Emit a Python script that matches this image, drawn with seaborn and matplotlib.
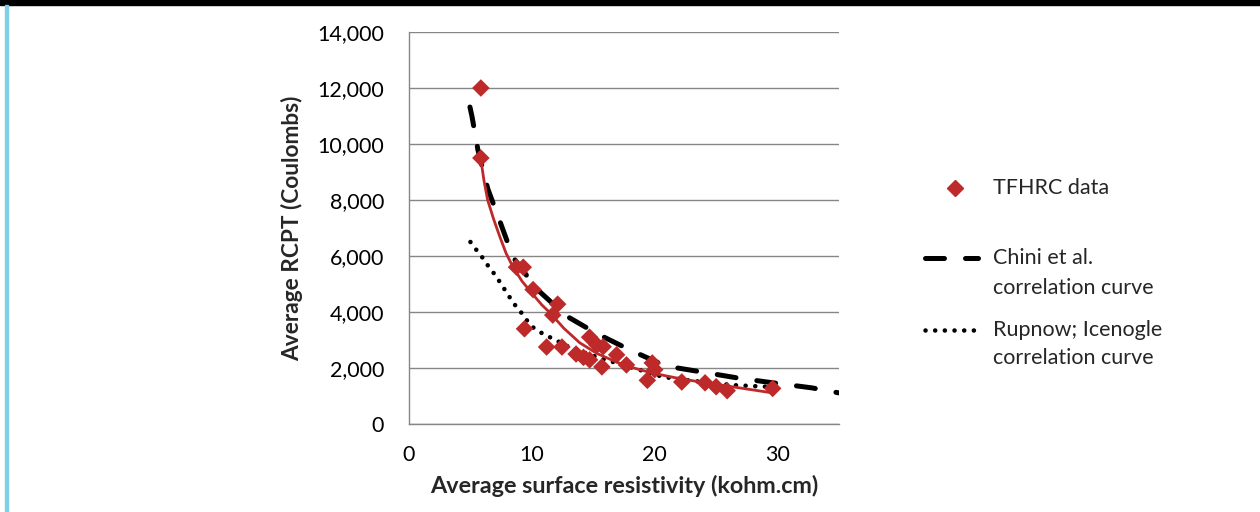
import matplotlib
matplotlib.use("Agg")
import matplotlib.pyplot as plt
import seaborn as sns
from matplotlib.lines import Line2D
from matplotlib.patches import Rectangle
from matplotlib.ticker import FuncFormatter, MultipleLocator

# TFHRC measured points
tfhrc_x = [5.85, 5.85, 8.75, 9.3, 10.1, 12.1, 11.7, 9.4, 11.2, 12.45, 13.6, 14.2, 14.7,
           14.7, 15.3, 15.8, 15.7, 16.9, 17.7, 19.8, 19.4, 20.0, 22.2, 24.1, 25.0, 25.9, 29.6]
tfhrc_y = [12000, 9500, 5600, 5600, 4800, 4280, 3890, 3400, 2750, 2750, 2500, 2380, 3100,
           2290, 2820, 2760, 2040, 2470, 2110, 2180, 1560, 1940, 1500, 1470, 1330, 1190, 1270]

# trend line through TFHRC data
trend_x = [5.85, 6.1, 6.4, 6.9, 7.4, 7.9, 8.46, 9.2, 10.1, 10.8, 11.5, 12.6, 13.9, 15.3,
           16.9, 18.3, 19.8, 21.7, 23.7, 26.3, 29.6]
trend_y = [9450, 8700, 8000, 7300, 6680, 6100, 5610, 5100, 4620, 4260, 3960, 3420, 2900, 2520,
           2210, 2000, 1820, 1650, 1500, 1330, 1110]

# Chini et al. correlation curve
chini_x = [4.96, 5.12, 5.61, 6.42, 7.48, 8.46, 10.4, 12.8, 15.2, 18.0, 20.9, 23.8, 26.8, 29.8, 32.8, 35.0]
chini_y = [11320, 11000, 9790, 8390, 7140, 5960, 4820, 3860, 3250, 2640, 2070, 1860, 1640, 1460, 1290, 1110]

# Rupnow; Icenogle correlation curve
rup_x = [5.0, 5.5, 6.0, 6.5, 7.07, 7.6, 8.07, 8.5, 9.1, 9.6, 10.1, 10.9, 11.6, 13.2,
         15.5, 17.4, 20.7, 23.1, 26.3, 29.6]
rup_y = [6500, 6210, 5930, 5610, 5290, 4930, 4610, 4320, 4000, 3700, 3450, 3220, 3070, 2710,
         2360, 2110, 1680, 1540, 1390, 1320]

red = "#BE2A2A"
grey = "#868686"
fs = 15.5

sns.set_style("white")
plt.rcParams["font.family"] = ["Lato", "DejaVu Sans"]

fig = plt.figure(figsize=(12.6, 5.12), dpi=100)
ax = fig.add_axes([409 / 1260, 88 / 512, 430 / 1260, 392 / 512])

sns.lineplot(x=chini_x, y=chini_y, ax=ax, sort=False, estimator=None, color="black",
             lw=3.6, linestyle=(0, (3.8, 4.2)), dash_capstyle="round", zorder=2)
sns.lineplot(x=rup_x, y=rup_y, ax=ax, sort=False, estimator=None, color="black",
             lw=3.3, linestyle=(0, (0.01, 2.1)), dash_capstyle="round", zorder=2)
sns.lineplot(x=trend_x, y=trend_y, ax=ax, sort=False, estimator=None, color=red,
             lw=2.0, zorder=3)
sns.scatterplot(x=tfhrc_x, y=tfhrc_y, ax=ax, marker="D", color=red, s=80,
                edgecolor="none", zorder=4)

ax.set_xlim(0, 35)
ax.set_ylim(0, 14000)
ax.xaxis.set_major_locator(MultipleLocator(10))
ax.yaxis.set_major_locator(MultipleLocator(2000))
ax.yaxis.set_major_formatter(FuncFormatter(lambda v, p: f"{int(v):,}"))
ax.grid(axis="y", color=grey, lw=1.0)
ax.set_axisbelow(True)
for s in ["top", "right"]:
    ax.spines[s].set_visible(False)
for s in ["left", "bottom"]:
    ax.spines[s].set_color(grey)
    ax.spines[s].set_linewidth(1.0)
ax.tick_params(axis="both", which="major", direction="out", length=5, width=1,
               color=grey, labelsize=fs, labelcolor="black")
ax.tick_params(axis="y", pad=13)
ax.tick_params(axis="x", pad=10)
ax.set_xlabel("Average surface resistivity (kohm.cm)", fontsize=16.8, fontweight="bold", labelpad=7)
ax.set_ylabel("Average RCPT (Coulombs)", fontsize=16.3, fontweight="bold", labelpad=10)

# legend drawn by hand so handles line up with the first text line
def fx(px):
    return px / 1260

def fy(py):
    return 1 - py / 512

fig.add_artist(Line2D([fx(955)], [fy(188)], marker="D", color=red, markersize=8, lw=0))
fig.text(fx(993), fy(188), "TFHRC data", fontsize=fs, va="center")
fig.add_artist(Line2D([fx(925), fx(978)], [fy(258), fy(258)], color="black", lw=3.6,
                      linestyle=(0, (3.8, 4.2)), dash_capstyle="round"))
fig.text(fx(993), fy(258), "Chini et al.", fontsize=fs, va="center")
fig.text(fx(993), fy(288), "correlation curve", fontsize=fs, va="center")
fig.add_artist(Line2D([fx(925), fx(978)], [fy(330), fy(330)], color="black", lw=3.3,
                      linestyle=(0, (0.01, 2.1)), dash_capstyle="round"))
fig.text(fx(993), fy(330), "Rupnow; Icenogle", fontsize=fs, va="center")
fig.text(fx(993), fy(358), "correlation curve", fontsize=fs, va="center")

# page frame bits
fig.patches.append(Rectangle((0, fy(5)), 1, 5 / 512, transform=fig.transFigure,
                             color="black", zorder=10))
fig.patches.append(Rectangle((fx(5), 0), 2.5 / 1260, fy(5), transform=fig.transFigure,
                             color="#7ED0E6", zorder=10))

fig.savefig("out.png", dpi=100)
